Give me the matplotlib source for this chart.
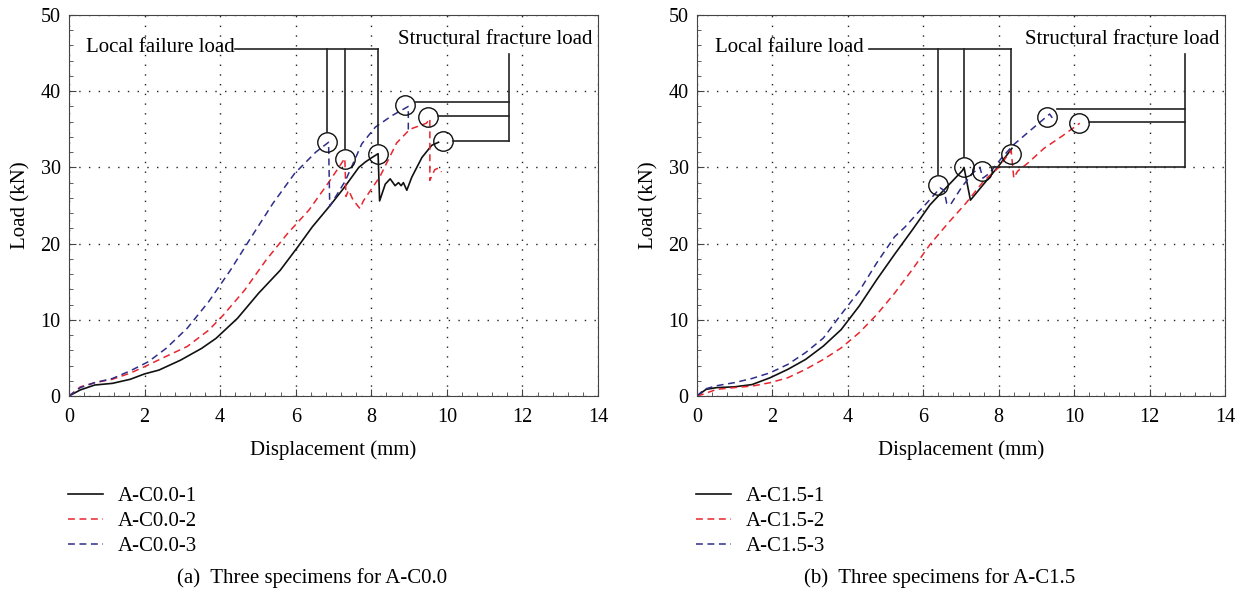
import matplotlib
matplotlib.use("Agg")
import matplotlib.pyplot as plt
from matplotlib.ticker import MultipleLocator

plt.rcParams['font.family'] = ['Liberation Serif', 'DejaVu Serif']
plt.rcParams['font.size'] = 15

# ---- data, panel (a) ----
c00_1_x = [0, 0.3, 0.68, 1.15, 1.62, 2.0, 2.38, 2.95, 3.51, 3.89, 4.46, 5.02, 5.59, 6.06, 6.44, 6.91,
           7.29, 7.67, 7.84, 8.02, 8.18, 8.22, 8.37, 8.50, 8.63, 8.72, 8.79, 8.85, 8.94, 9.07, 9.34, 9.60, 9.78]
c00_1_y = [0, 0.8, 1.44, 1.66, 2.19, 2.9, 3.4, 4.7, 6.25, 7.56, 10.2, 13.5, 16.5, 19.6, 22.2, 25.0,
           27.4, 30.0, 30.7, 31.3, 31.8, 25.6, 27.8, 28.5, 27.6, 28.0, 27.6, 28.0, 27.0, 28.7, 31.3, 32.9, 33.3]
c00_2_x = [0, 0.3, 0.68, 1.15, 1.62, 2.0, 2.57, 3.13, 3.7, 4.08, 4.65, 5.21, 5.78, 6.35, 6.91, 7.30,
           7.33, 7.40, 7.52, 7.70, 7.79, 8.23, 8.67, 9.02, 9.46, 9.55, 9.55, 9.68, 9.77, 9.86]
c00_2_y = [0, 1.2, 1.75, 2.2, 3.0, 3.85, 5.2, 6.5, 8.65, 10.6, 13.9, 17.8, 21.3, 24.4, 28.3, 31.2,
           26.2, 27.0, 25.7, 24.6, 25.6, 28.8, 33.2, 35.0, 35.8, 36.4, 28.3, 29.7, 29.9, 29.4]
c00_3_x = [0, 0.3, 0.68, 1.15, 1.62, 2.1, 2.57, 3.13, 3.7, 4.27, 4.83, 5.4, 5.97, 6.53, 6.87,
           6.90, 7.31, 7.75, 8.11, 8.55, 8.98, 8.98]
c00_3_y = [0, 1.1, 1.75, 2.3, 3.3, 4.5, 6.25, 8.9, 12.4, 16.5, 20.9, 25.3, 29.2, 32.0, 33.3,
           24.9, 28.2, 33.1, 35.3, 36.8, 38.0, 34.8]

a_local_x = [6.83, 7.30, 8.18]
a_local_y = [33.3, 31.1, 31.7]
a_struct_x = [8.90, 9.51, 9.89]
a_struct_y = [38.15, 36.6, 33.4]
a_struct_tap = [38.6, 36.8, 33.5]

# ---- data, panel (b) ----
c15_1_x = [0, 0.24, 0.52, 0.99, 1.46, 1.94, 2.41, 2.88, 3.35, 3.82, 4.3, 4.77, 5.24, 5.71, 6.18,
           6.56, 7.04, 7.08, 7.25, 7.6, 8.0, 8.35]
c15_1_y = [0, 0.87, 1.1, 1.2, 1.5, 2.4, 3.5, 4.8, 6.55, 8.7, 11.8, 15.3, 18.6, 21.8, 25.1,
           27.1, 29.6, 30.0, 25.7, 27.8, 30.2, 32.5]
c15_2_x = [0, 0.14, 0.52, 0.99, 1.46, 1.94, 2.41, 2.88, 3.35, 3.82, 4.3, 4.77, 5.24, 5.71, 6.18,
           6.66, 7.13, 7.6, 7.98, 8.33, 8.40, 8.5, 8.78, 9.2, 9.68, 10.15]
c15_2_y = [0, 0.2, 0.87, 1.1, 1.3, 1.75, 2.4, 3.5, 4.8, 6.3, 8.3, 10.7, 13.5, 16.6, 19.9,
           22.7, 25.3, 28.2, 29.9, 32.2, 28.6, 29.5, 30.6, 32.5, 34.1, 35.8]
c15_3_x = [0, 0.2, 0.52, 0.99, 1.46, 1.94, 2.41, 2.88, 3.35, 3.82, 4.3, 4.77, 5.24, 5.52, 5.81,
           6.18, 6.45, 6.55, 6.62, 6.72, 7.03, 7.32, 7.5, 7.58, 7.75, 8.07, 8.4, 8.92, 9.35, 9.42]
c15_3_y = [0, 0.9, 1.35, 1.75, 2.3, 3.05, 4.15, 5.7, 7.6, 10.7, 13.75, 17.5, 20.9, 22.2, 23.8,
           25.8, 27.3, 27.0, 25.3, 25.1, 27.5, 29.3, 30.0, 28.6, 29.2, 31.2, 33.0, 35.2, 37.0, 36.5]

b_local_x = [6.40, 7.08, 8.33]
b_local_y = [27.7, 30.0, 31.75]
b_struct_x = [9.27, 10.12, 7.56]
b_struct_y = [36.6, 35.8, 29.5]
b_struct_tap = [37.6, 35.96, 30.0]

RED = '#e8262d'
BLUE = '#2e2e8a'


def panel(ax, curves, labels, loc_x, loc_y, st_x, st_y, st_tap, loc_bar, loc_text_x, st_bar):
    cols = ['#111111', RED, BLUE]
    lines = []
    for (x, y), c, lab in zip(curves, cols, labels):
        if c == '#111111':
            ln, = ax.plot(x, y, color=c, lw=1.2, label=lab)
        else:
            ln, = ax.plot(x, y, color=c, lw=1.1, dashes=(4.5, 3), label=lab)
        lines.append(ln)

    rx, ry = 0.265, 1.31  # circle radius in data units
    ax.plot(loc_x + st_x, loc_y + st_y, 'o', ms=14, mfc='none', mec='#111111', mew=1.0)

    # local failure bracket
    ybar = 45.5
    ax.plot([loc_bar, max(loc_x)], [ybar, ybar], color='#222222', lw=1.2)
    for x, y in zip(loc_x, loc_y):
        ax.plot([x, x], [ybar, y + ry], color='#222222', lw=1.2)
    ax.text(loc_text_x, 45.8, 'Local failure load', ha='left', va='center')

    # structural fracture bracket
    ax.plot([st_bar, st_bar], [44.9, min(st_tap)], color='#222222', lw=1.2)
    for x, t in zip(st_x, st_tap):
        ax.plot([x + rx, st_bar], [t, t], color='#222222', lw=1.2)
    ax.text(13.85, 46.8, 'Structural fracture load', ha='right', va='center')

    ax.set_xlim(0, 14)
    ax.set_ylim(0, 50)
    ax.xaxis.set_major_locator(MultipleLocator(2))
    ax.xaxis.set_minor_locator(MultipleLocator(0.4))
    ax.yaxis.set_major_locator(MultipleLocator(10))
    ax.yaxis.set_minor_locator(MultipleLocator(2))
    ax.tick_params(which='both', direction='in', top=False, right=False, color='#444444',
                   labelsize=14.5)
    ax.tick_params(which='major', length=5)
    ax.tick_params(which='minor', length=3)
    ax.tick_params(axis='x', which='major', pad=9)
    ax.tick_params(axis='y', which='major', pad=6)
    ax.grid(True, which='major', color='#222222', linestyle=(0, (1, 6)), lw=1.0)
    for s in ax.spines.values():
        s.set_color('#444444')
    ax.set_xlabel('Displacement (mm)', labelpad=9)
    ax.set_ylabel('Load (kN)', labelpad=7)
    ax.legend(handles=lines, loc='upper left', bbox_to_anchor=(-0.002, -0.238), frameon=False,
              handlelength=1.7, handletextpad=0.7, labelspacing=0.25, borderpad=0, borderaxespad=0)


fig = plt.figure(figsize=(12.46, 5.94), dpi=100)
ax1 = fig.add_axes([69 / 1246, 1 - 396 / 594, 529 / 1246, 381 / 594])
ax2 = fig.add_axes([697 / 1246, 1 - 396 / 594, 528 / 1246, 381 / 594])

panel(ax1, [(c00_1_x, c00_1_y), (c00_2_x, c00_2_y), (c00_3_x, c00_3_y)],
      ['A-C0.0-1', 'A-C0.0-2', 'A-C0.0-3'],
      a_local_x, a_local_y, a_struct_x, a_struct_y, a_struct_tap, 4.39, 0.44, 11.65)
panel(ax2, [(c15_1_x, c15_1_y), (c15_2_x, c15_2_y), (c15_3_x, c15_3_y)],
      ['A-C1.5-1', 'A-C1.5-2', 'A-C1.5-3'],
      b_local_x, b_local_y, b_struct_x, b_struct_y, b_struct_tap, 4.56, 0.47, 12.95)

fig.text(312 / 1246, 1 - 578 / 594, '(a)  Three specimens for A-C0.0', ha='center', va='center')
fig.text(940 / 1246, 1 - 578 / 594, '(b)  Three specimens for A-C1.5', ha='center', va='center')

fig.savefig('out.png', dpi=100)
